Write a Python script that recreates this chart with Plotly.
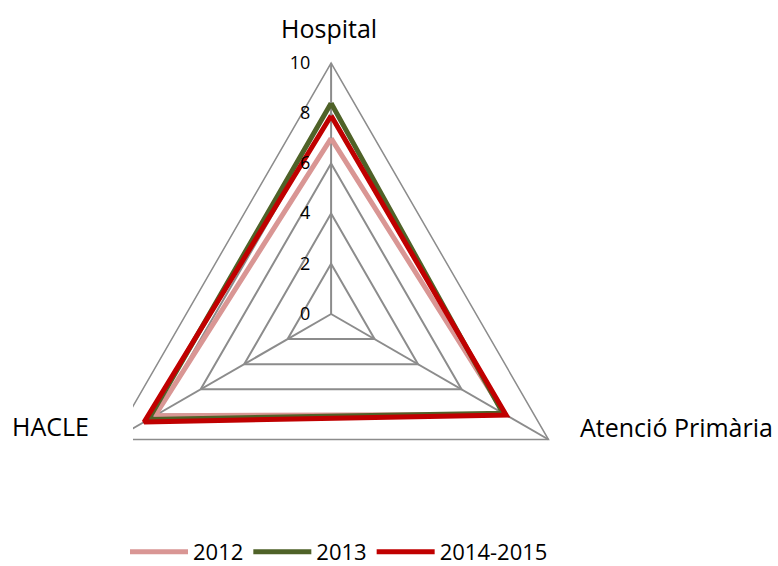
import plotly.graph_objects as go

categories = ["Hospital", "Atenció Primària", "HACLE"]
series_names = ["2012", "2013", "2014-2015"]
v2012 = [7.0, 8.0, 8.1]
v2013 = [8.4, 7.9, 8.4]
v2014 = [7.9, 8.05, 8.6]
colors = ["#D99694", "#4F6228", "#C00000"]

fig = go.Figure()
for name, vals, col in zip(series_names, [v2012, v2013, v2014], colors):
    fig.add_trace(go.Scatterpolar(
        r=vals + [vals[0]], theta=categories + [categories[0]],
        mode="lines", name=name, line=dict(color=col, width=5),
    ))

W, H = 778, 574  # page is 566 tall; paper slightly taller so the polar square fits
cx, cy, R = 331.1, 314.0, 251.0
FONT = "Open Sans, Lato, sans-serif"
fig.update_layout(
    width=W, height=H,
    margin=dict(l=0, r=0, t=0, b=0),
    paper_bgcolor="white",
    font=dict(family=FONT, color="#000"),
    polar=dict(
        domain=dict(x=[(cx - R) / W, (cx + R) / W], y=[1 - (cy + R) / H, 1 - (cy - R) / H]),
        gridshape="linear",
        bgcolor="white",
        radialaxis=dict(range=[0, 10], dtick=2, tick0=0, angle=90, side="counterclockwise",
                        showline=False, gridcolor="#8c8c8c", gridwidth=1.5, tickangle=90,
                        ticks="outside", ticklen=14, tickcolor="rgba(0,0,0,0)",
                        tickfont=dict(size=18)),
        angularaxis=dict(rotation=90, direction="clockwise", showline=True,
                         linecolor="#8c8c8c", linewidth=1.5, gridcolor="#8c8c8c", gridwidth=1.5,
                         showticklabels=False, ticks=""),
    ),
    legend=dict(orientation="h", x=125 / W, xanchor="left", y=1 - 552 / H,
                yanchor="middle", font=dict(size=22), itemwidth=58),
    shapes=[dict(type="rect", xref="paper", yref="paper", x0=0, x1=133 / W,
                 y0=1 - 450 / H, y1=1 - 395 / H, fillcolor="white",
                 line=dict(width=0), layer="above")],
)
label_pos = [(328.5, 28), (676.5, 427), (50, 426)]
for txt, (x, y) in zip(categories, label_pos):
    fig.add_annotation(text=txt, x=x / W, y=1 - y / H, xref="paper", yref="paper",
                       showarrow=False, xanchor="center", yanchor="middle",
                       font=dict(size=25, family=FONT))
fig.write_html("out.html", config={"displayModeBar": False},
               post_script="document.body.style.margin='0';document.body.style.overflow='hidden';")
